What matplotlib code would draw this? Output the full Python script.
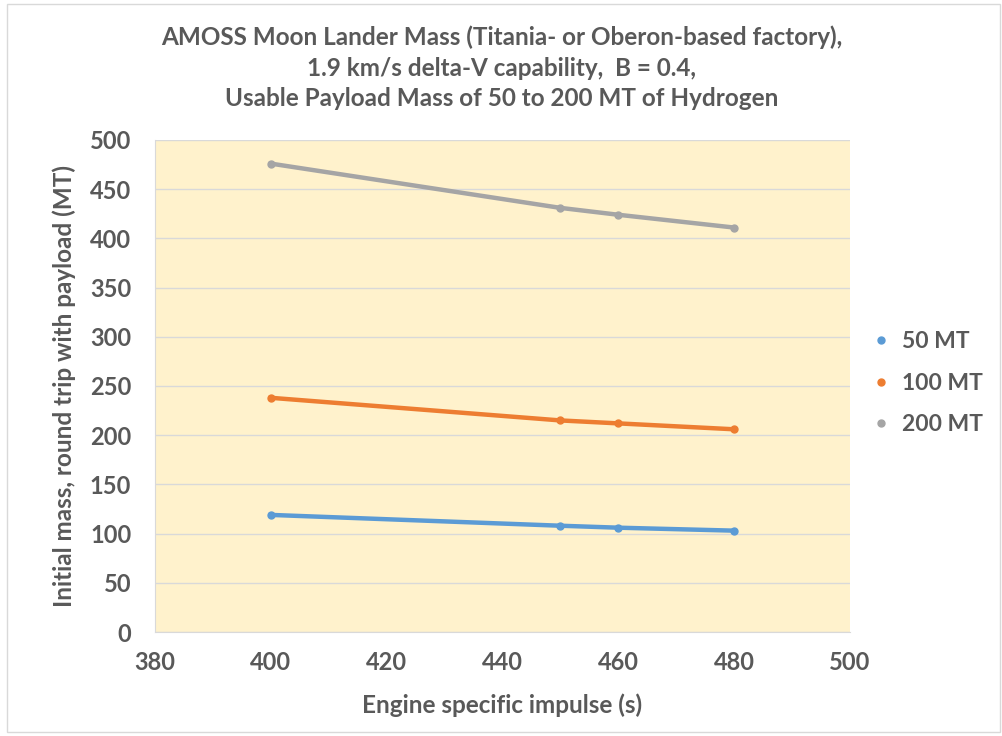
# AMOSS moon lander mass vs engine specific impulse
import matplotlib.pyplot as plt

isp = [400, 450, 460, 480]
mass_50 = [119, 108, 106, 103]
mass_100 = [238, 215, 212, 206]
mass_200 = [476, 431, 424, 411]
series_labels = ['50 MT', '100 MT', '200 MT']

plt.rcParams['font.family'] = ['Lato', 'DejaVu Sans']
txt = '#595959'

fig = plt.figure(figsize=(10.03, 7.36), dpi=100)
ax = fig.add_axes([0.1545, 0.1413, 0.693, 0.6685])
ax.set_facecolor('#FFF2CC')

colors = ['#5B9BD5', '#ED7D31', '#A5A5A5']
for ys, lab, c in zip([mass_50, mass_100, mass_200], series_labels, colors):
    ax.plot(isp, ys, color=c, lw=3.2, marker='o', ms=5, label=lab)

ax.set_xlim(380, 500)
ax.set_ylim(0, 500)
ax.set_xticks(range(380, 501, 20))
ax.set_yticks(range(0, 501, 50))
ax.grid(axis='y', color='#D9D9D9', lw=1)
ax.set_axisbelow(True)
for s in ['top', 'right']:
    ax.spines[s].set_visible(False)
for s in ['left', 'bottom']:
    ax.spines[s].set_color('#D9D9D9')
ax.tick_params(axis='y', length=0, labelsize=17, colors=txt, pad=17)
ax.tick_params(axis='x', length=0, labelsize=17, colors=txt, pad=14)
# bold tick labels, set after tick_params so they stick
for t in ax.get_xticklabels() + ax.get_yticklabels():
    t.set_fontweight('bold')

ax.set_xlabel('Engine specific impulse (s)', fontsize=17.5, fontweight='bold', color=txt, labelpad=14)
ax.set_ylabel('Initial mass, round trip with payload (MT)', fontsize=17.5, fontweight='bold',
              color=txt, labelpad=10)

fig.suptitle('AMOSS Moon Lander Mass (Titania- or Oberon-based factory),\n'
             '1.9 km/s delta-V capability,  B = 0.4,\n'
             'Usable Payload Mass of 50 to 200 MT of Hydrogen',
             x=0.5, y=0.965, fontsize=17.5, fontweight='bold', color=txt, linespacing=1.38)

leg = ax.legend(loc='center left', bbox_to_anchor=(1.005, 0.506), frameon=False,
                fontsize=16.5, handlelength=0.6, handletextpad=0.6, labelspacing=0.9)
for t in leg.get_texts():
    t.set_color(txt)
    t.set_fontweight('bold')
for h in leg.get_lines():
    h.set_linestyle('none')

fig.patches.append(plt.Rectangle((0.007, 0.005), 0.99, 0.99, transform=fig.transFigure,
                                 fill=False, ec='#D9D9D9', lw=1))

fig.savefig('out.png', dpi=100)
